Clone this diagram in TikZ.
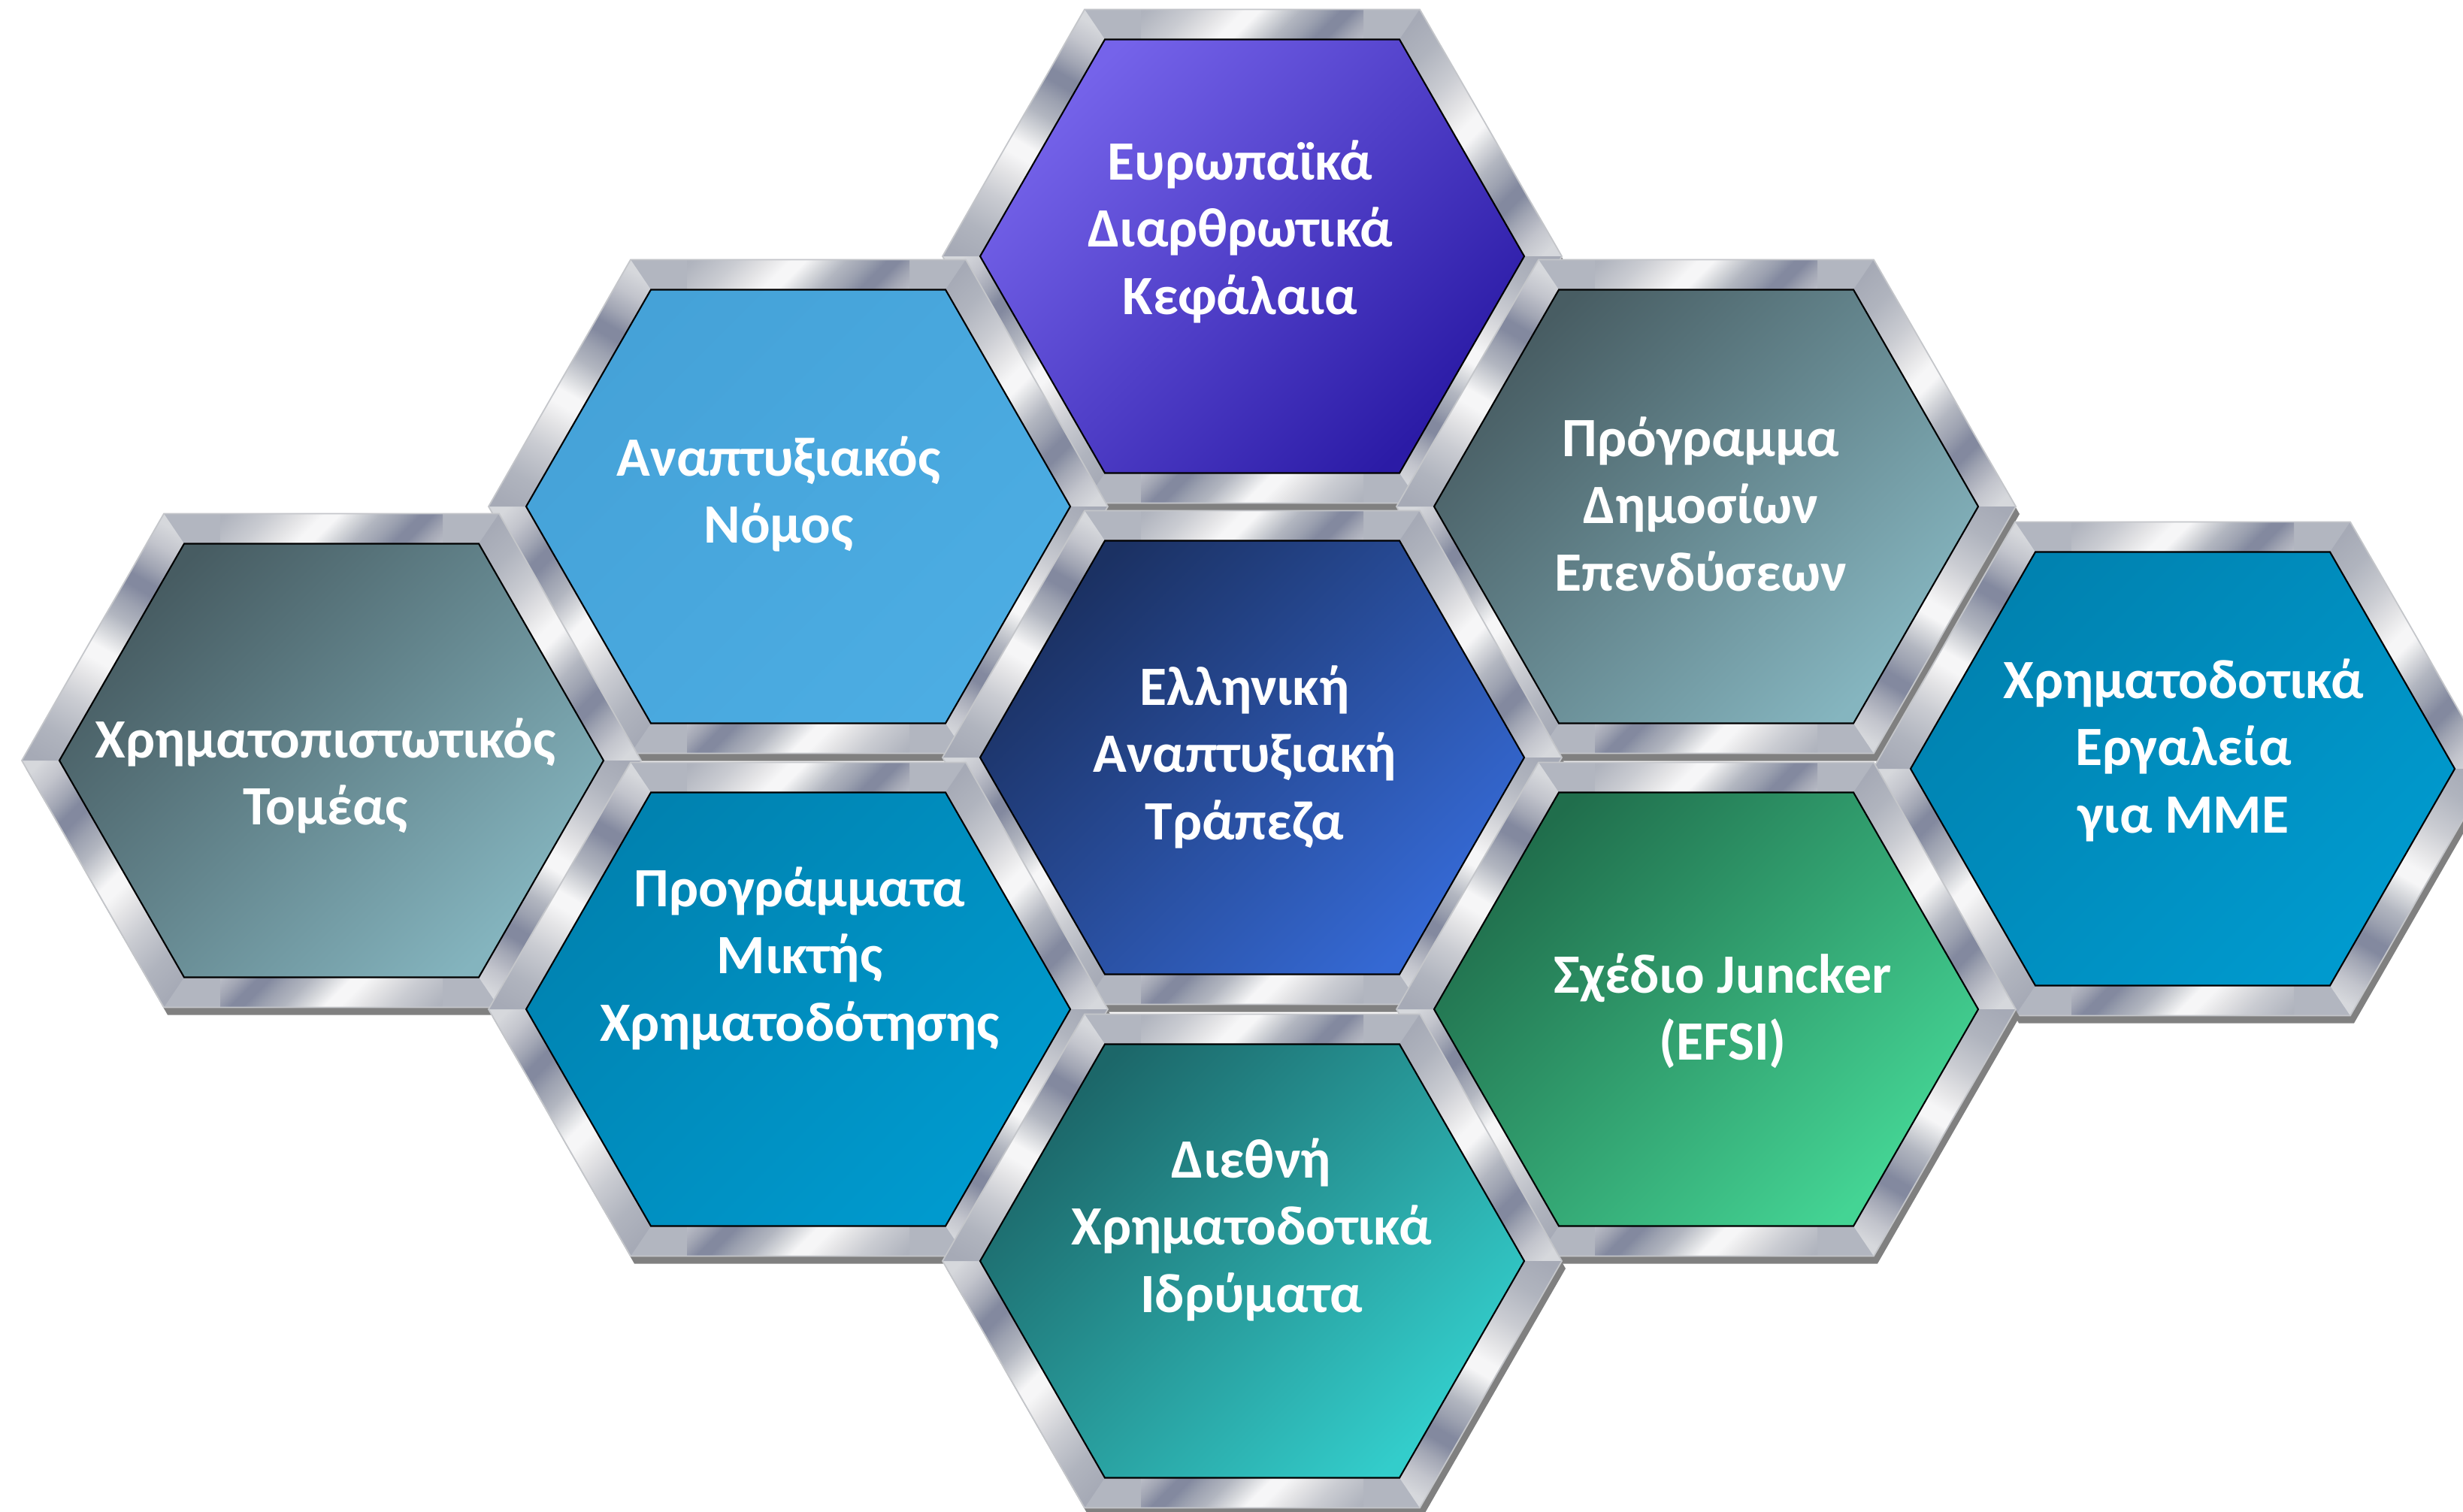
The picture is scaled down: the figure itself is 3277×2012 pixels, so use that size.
\documentclass[tikz,border=0pt]{standalone}
\usepackage{fontspec}
\setmainfont{Carlito}
\definecolor{mg0}{HTML}{A6AAB6}
\definecolor{mg1}{HTML}{B0B4BE}
\definecolor{mg2}{HTML}{CACCD2}
\definecolor{mg3}{HTML}{E4E4E6}
\definecolor{mg4}{HTML}{F6F6F7}
\definecolor{mg5}{HTML}{D6D8DC}
\definecolor{mg6}{HTML}{B2B6C0}
\definecolor{mg7}{HTML}{9CA1B0}
\definecolor{mg8}{HTML}{83899F}
\definecolor{mg9}{HTML}{A2A6B4}
\definecolor{mg10}{HTML}{C2C4CC}
\definecolor{mg11}{HTML}{D6D8DC}
\definecolor{shadowgrey}{HTML}{808080}
\definecolor{rimgrey}{HTML}{C4C6CA}
\definecolor{euA}{HTML}{7563EA}\definecolor{euB}{HTML}{2B1BA6}
\definecolor{anA}{HTML}{45A2D8}\definecolor{anB}{HTML}{4CADE3}
\definecolor{pdA}{HTML}{485D63}\definecolor{pdB}{HTML}{85B5BF}
\definecolor{fiA}{HTML}{475C62}\definecolor{fiB}{HTML}{84B4BE}
\definecolor{hdA}{HTML}{1B3163}\definecolor{hdB}{HTML}{3569D4}
\definecolor{smA}{HTML}{0082B0}\definecolor{smB}{HTML}{009ACE}
\definecolor{mxA}{HTML}{0082B0}\definecolor{mxB}{HTML}{009ACE}
\definecolor{efA}{HTML}{206E4C}\definecolor{efB}{HTML}{44D494}
\definecolor{ifA}{HTML}{1C6769}\definecolor{ifB}{HTML}{33CDCB}
\pgfdeclarehorizontalshading{metalstripe}{100bp}{color(0bp)=(mg0); color(25bp)=(mg0); color(31bp)=(mg1); color(38bp)=(mg2); color(43bp)=(mg3); color(46.5bp)=(mg4); color(49bp)=(mg4); color(52bp)=(mg5); color(55.5bp)=(mg6); color(59bp)=(mg7); color(62bp)=(mg8); color(64bp)=(mg8); color(67bp)=(mg9); color(71bp)=(mg10); color(75bp)=(mg11); color(100bp)=(mg11)}
\tikzset{
  hextext/.style={text=white, anchor=base, inner sep=0pt, font=\fontsize{21}{25.5}\selectfont\bfseries},
  framerim/.style={draw=rimgrey, line width=0.5pt},
  innerrim/.style={draw=black, line width=0.6pt}
}
\newcommand{\metalseg}[7]{%
  \begin{scope}
    \clip (#1) -- (#2) -- (#3) -- (#4) -- cycle;
    \shade[shading=metalstripe, shading angle=#7] #5 rectangle #6;
  \end{scope}}
\newcommand{\hexcell}[8]{%
  \begin{scope}[shift={(#1,#2)}]
    \fill[shadowgrey] (-218,-318.5) -- (228,-318.5) -- (417,10) -- (228,338.5) -- (-218,338.5) -- (-407,10) -- cycle;
    \coordinate (O0) at (-223,-328.5);
    \coordinate (O1) at (223,-328.5);
    \coordinate (O2) at (412,0);
    \coordinate (O3) at (223,328.5);
    \coordinate (O4) at (-223,328.5);
    \coordinate (O5) at (-412,0);
    \coordinate (I0) at (-196,-288.5);
    \coordinate (I1) at (196,-288.5);
    \coordinate (I2) at (362,0);
    \coordinate (I3) at (196,288.5);
    \coordinate (I4) at (-196,288.5);
    \coordinate (I5) at (-362,0);
    \fill[mg6] (O0) -- (O1) -- (O2) -- (O3) -- (O4) -- (O5) -- cycle;
    \metalseg{O0}{O1}{I1}{I0}{(-148,-456.5)}{(148,-160.5)}{-45}
    \metalseg{O1}{O2}{I2}{I1}{(126.25,-326.25)}{(470.25,17.75)}{-45}
    \metalseg{O2}{O3}{I3}{I2}{(120.25,-23.75)}{(476.25,332.25)}{-119.9}
    \metalseg{O3}{O4}{I4}{I3}{(-148,160.5)}{(148,456.5)}{135}
    \metalseg{O4}{O5}{I5}{I4}{(-470.25,-17.75)}{(-126.25,326.25)}{135}
    \metalseg{O5}{O0}{I0}{I5}{(-476.25,-332.25)}{(-120.25,23.75)}{60.1}
    \path[framerim] (O0) -- (O1) -- (O2) -- (O3) -- (O4) -- (O5) -- cycle;
    \path[innerrim, top color=#3, bottom color=#4, shading angle=45] (I0) -- (I1) -- (I2) -- (I3) -- (I4) -- (I5) -- cycle;
  \end{scope}
  \node[hextext] (#5) at (#6,#7) {\begin{tabular}[t]{@{}c@{}}#8\end{tabular}};
}
\begin{document}
\begin{tikzpicture}[x=0.01cm, y=-0.01cm]
  \path[use as bounding box] (0,0) rectangle (3277,2012);
  \clip (0,0) rectangle (3277,2012);
  \fill[white] (0,0) rectangle (3277,2012);
  \hexcell{1666}{341}{euA}{euB}{eu}{1650}{239}{Ευρωπαϊκά\\Διαρθρωτικά\\Κεφάλαια}
  \hexcell{1062}{674}{anA}{anB}{anap}{1036}{633}{Αναπτυξιακός\\Νόμος}
  \hexcell{2270}{674}{pdA}{pdB}{pde}{2263}{607}{Πρόγραμμα\\Δημοσίων\\Επενδύσεων}
  \hexcell{441}{1012}{fiA}{fiB}{fin}{433}{1008}{Χρηματοπιστωτικός\\Τομέας}
  \hexcell{1666}{1008}{hdA}{hdB}{hdb}{1656}{938}{Ελληνική\\Αναπτυξιακή\\Τράπεζα}
  \hexcell{2904}{1023}{smA}{smB}{sme}{2905}{929}{Χρηματοδοτικά\\Εργαλεία\\για ΜΜΕ}
  \hexcell{1062}{1343}{mxA}{mxB}{mix}{1064}{1206}{Προγράμματα\\Μικτής\\Χρηματοδότησης}
  \hexcell{2270}{1343}{efA}{efB}{efsi}{2292}{1321}{Σχέδιο Juncker\\(EFSI)}
  \hexcell{1666}{1678}{ifA}{ifB}{ifi}{1665}{1567}{Διεθνή\\Χρηματοδοτικά\\Ιδρύματα}
\end{tikzpicture}
\end{document}
